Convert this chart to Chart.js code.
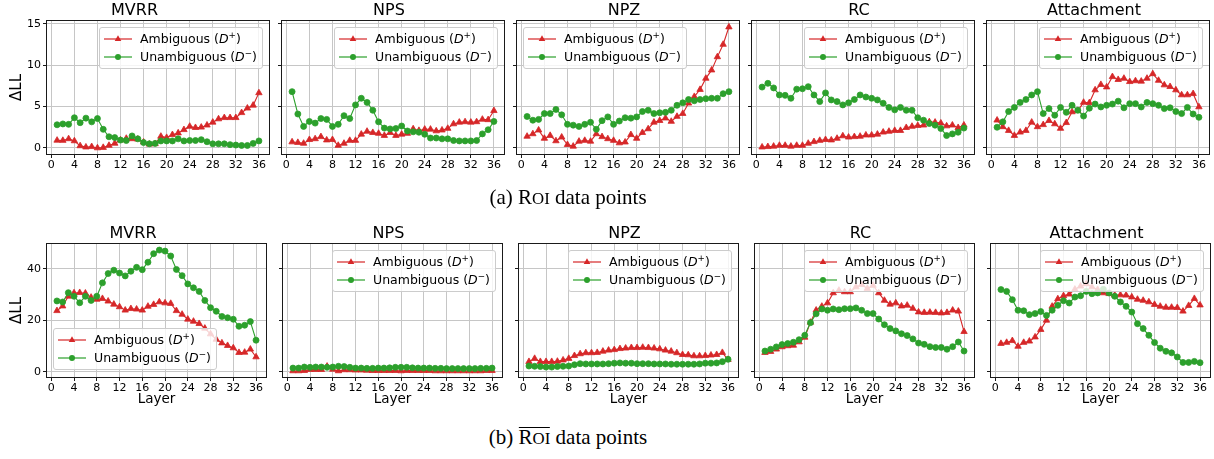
<!DOCTYPE html>
<html><head><meta charset="utf-8">
<script src="https://cdn.jsdelivr.net/npm/chart.js@4.4.1/dist/chart.umd.min.js"></script>
<style>
html,body{margin:0;padding:0;background:#fff;}
body{width:1214px;height:459px;position:relative;overflow:hidden;font-family:"DejaVu Sans",sans-serif;}
.legend{position:absolute;background:rgba(255,255,255,0.8);border:1px solid #cccccc;border-radius:3px;padding:3px 5px 3px 4px;font-size:12.5px;color:#000;white-space:nowrap;box-sizing:border-box;}
.legend .row{height:16px;line-height:16px;display:flex;align-items:center;}
.legend .row+.row{margin-top:2px;}
.legend svg{width:28px;height:12px;margin-right:8px;flex:none;}
.legend i{font-family:"DejaVu Sans",sans-serif;font-style:italic;}
.legend sup{font-size:0.7em;vertical-align:0.55em;line-height:0;}
.caption{position:absolute;font-family:"Liberation Serif","Times New Roman",serif;font-size:21px;line-height:21px;color:#000;white-space:nowrap;transform:translateX(-50%);}
.caption .sc{font-size:0.8em;}
.caption .ov{display:inline-block;border-top:1.2px solid #000;line-height:16px;padding-top:1px;}
</style></head>
<body>
<script>
// ---------- data ----------
const layers = [1,2,3,4,5,6,7,8,9,10,11,12,13,14,15,16,17,18,19,20,21,22,23,24,25,26,27,28,29,30,31,32,33,34,35,36];
const xTicks = [0,4,8,12,16,20,24,28,32,36];
const yTicksRoi = [0,5,10,15];
const yTicksNonRoi = [0,20,40];
const panelTitles = ["MVRR","NPS","NPZ","RC","Attachment"];
const seriesLabels = ["Ambiguous (D+)","Unambiguous (D\u2212)"];

// (a) RoI data points
const roiMvrrAmb   = [0.92,0.9,1.1,0.85,0.25,0.1,0.15,0.0,0.05,0.3,0.55,0.95,1.15,1.1,1.05,0.7,0.45,0.5,1.4,1.25,1.6,1.8,2.2,2.6,2.45,2.5,2.75,3.1,3.5,3.65,3.65,3.65,4.25,4.8,5.15,6.65];
const roiMvrrUnamb = [2.8,2.9,2.85,3.65,3.05,3.6,3.15,3.55,2.25,1.35,1.25,0.95,0.9,1.45,1.1,0.65,0.5,0.55,0.85,0.85,0.85,1.1,0.85,0.9,0.9,1.0,0.75,0.5,0.5,0.5,0.4,0.35,0.3,0.3,0.55,0.85];
const roiNpsAmb    = [0.72,0.65,0.55,1.0,1.1,1.35,0.95,1.0,0.3,0.55,0.9,0.9,1.65,2.0,1.85,1.75,1.5,1.85,1.5,1.65,1.75,2.3,2.1,2.25,2.25,2.05,2.15,2.35,2.9,3.1,3.15,3.1,3.15,3.45,3.4,4.5];
const roiNpsUnamb  = [6.8,4.1,2.6,3.2,3.0,3.55,3.45,2.6,2.85,3.9,3.55,5.2,6.0,5.5,4.55,3.15,2.4,2.3,2.35,2.65,2.05,1.95,1.9,1.65,1.2,1.2,1.1,1.1,0.9,0.85,0.85,0.85,0.9,1.7,2.2,3.2];
const roiNpzAmb    = [1.4,1.7,2.15,1.15,1.5,0.85,1.3,0.4,0.2,0.8,0.9,0.8,1.7,1.35,1.1,0.9,0.6,0.7,1.6,1.15,1.85,2.3,3.1,3.3,3.6,3.2,3.8,4.15,5.4,6.2,7.05,8.4,9.4,11.0,12.5,14.6];
const roiNpzUnamb  = [3.8,3.35,3.45,4.15,4.15,4.65,4.0,2.85,2.75,2.6,2.85,3.1,2.25,3.3,3.75,2.85,3.25,3.65,3.6,3.75,4.4,4.55,4.15,4.25,4.3,4.55,5.15,5.45,5.85,5.7,5.85,5.95,6.0,6.0,6.55,6.8];
const roiRcAmb     = [0.1,0.15,0.2,0.3,0.3,0.2,0.3,0.3,0.55,0.75,0.9,1.0,0.95,1.15,1.45,1.3,1.35,1.4,1.55,1.55,1.65,1.9,2.0,2.1,2.1,2.45,2.6,2.7,2.75,3.15,3.1,3.0,2.65,2.75,2.45,2.75];
const roiRcUnamb   = [7.35,7.8,7.25,6.4,6.35,6.0,7.1,7.15,7.4,6.4,5.6,6.65,5.8,5.6,5.2,5.45,5.85,6.4,6.15,6.0,5.8,5.4,4.9,4.6,4.9,4.55,4.55,3.65,3.35,2.95,2.75,2.35,1.5,1.7,1.9,2.4];
const roiAttAmb    = [3.35,2.55,2.1,1.5,1.9,2.1,3.1,2.55,2.8,3.3,2.9,2.35,3.05,4.35,4.5,5.5,5.45,7.0,7.65,7.35,8.6,8.25,8.4,8.0,8.1,8.05,8.4,8.95,8.15,7.6,7.4,7.0,6.4,6.4,6.55,4.95];
const roiAttUnamb  = [2.5,3.15,4.4,4.9,5.5,5.85,6.4,6.8,4.15,4.75,3.95,4.9,4.3,5.15,4.55,3.85,4.8,5.3,4.95,5.15,5.3,5.65,4.85,5.35,5.35,4.95,5.5,5.35,5.15,4.75,4.85,4.4,4.15,4.9,4.1,3.7];

// (b) non-RoI data points
const nonMvrrAmb   = [23.7,25.5,29.3,30.6,30.7,30.5,28.9,28.1,28.4,27.4,26.2,25.2,23.9,24.5,24.3,23.9,25.4,26.1,27.1,26.7,26.5,23.7,22.3,20.4,19.6,18.7,16.9,14.7,12.6,11.2,10.2,9.3,7.5,7.6,8.8,5.8];
const nonMvrrUnamb = [27.5,27.1,30.7,29.3,26.8,29.3,27.7,29.3,34.5,38.1,39.4,38.3,37.2,39.0,40.5,39.6,42.5,45.8,47.2,46.8,44.9,39.7,37.3,34.1,32.6,31.2,27.7,24.9,23.5,21.5,21.0,20.4,17.7,18.1,19.5,12.3];
const nonNpsAmb    = [0.4,0.4,0.5,0.9,0.9,0.9,2.2,1.0,0.4,0.8,0.8,0.7,0.7,0.6,0.5,0.5,0.5,0.5,0.5,0.4,0.5,0.5,0.5,0.5,0.5,0.4,0.4,0.4,0.4,0.4,0.4,0.4,0.4,0.4,0.5,0.5];
const nonNpsUnamb  = [1.5,1.5,1.9,1.8,1.9,1.9,1.8,1.9,2.2,2.1,1.8,1.5,1.5,1.4,1.4,1.5,1.5,1.6,1.8,1.8,1.8,1.6,1.5,1.5,1.5,1.4,1.4,1.3,1.3,1.3,1.3,1.3,1.3,1.4,1.4,1.5];
const nonNpzAmb    = [4.0,5.2,4.0,4.0,4.0,4.1,4.6,5.2,6.3,7.0,7.4,7.4,7.5,8.0,8.4,8.6,9.0,9.2,9.4,9.4,9.5,9.4,9.2,8.9,8.4,8.0,7.4,6.7,6.6,6.2,6.2,6.3,6.5,6.7,7.5,4.8];
const nonNpzUnamb  = [2.3,2.2,2.1,1.9,1.9,2.1,2.2,2.3,2.8,3.2,3.1,3.1,3.1,3.1,3.2,3.4,3.5,3.4,3.4,3.2,3.2,3.2,3.1,3.1,3.1,3.0,3.0,3.0,3.0,3.0,3.1,3.4,3.4,3.5,4.0,4.9];
const nonRcAmb     = [7.5,7.9,8.8,9.7,10.1,10.3,11.6,13.4,19.2,23.9,25.4,26.7,30.6,31.6,31.0,31.0,32.9,33.8,32.3,33.5,30.6,27.7,26.2,26.7,25.5,25.8,24.6,23.2,23.0,23.1,23.0,22.8,23.0,23.9,23.5,15.6];
const nonRcUnamb   = [8.1,8.8,9.7,10.6,11.0,11.5,12.5,14.2,19.1,22.5,24.4,23.9,24.4,24.1,24.5,24.5,24.8,23.9,22.6,22.6,20.5,18.3,16.8,15.9,14.8,14.1,12.8,11.2,10.7,9.8,9.5,9.5,8.8,9.8,11.6,8.1];
const nonAttAmb    = [11.0,11.4,12.1,9.9,11.4,11.9,13.5,16.4,20.0,25.4,28.3,29.5,30.1,32.0,33.2,34.1,32.9,31.9,30.6,30.3,29.7,29.8,29.7,29.0,28.1,27.7,27.1,26.1,25.4,25.0,25.0,24.9,23.5,25.7,28.4,25.9];
const nonAttUnamb  = [31.9,31.2,28.0,23.9,23.7,22.2,22.6,23.4,21.9,23.9,25.8,27.6,26.7,29.0,29.5,31.2,30.3,30.6,32.0,30.6,29.3,27.1,25.4,23.2,18.7,16.8,14.2,11.4,9.2,8.0,7.4,5.8,3.7,3.7,4.1,3.6];

// ---------- layout / style ----------
const RED = '#d62728', GREEN = '#2ca02c', GRID = '#c6c6c6', AXIS = '#1a1a1a';
const FONT = "'DejaVu Sans', sans-serif";
Chart.defaults.font.family = FONT;

const ROWS = [
  { top:21, h:133, w:222, lefts:[47,282,517,752,987], yMin:-0.73, yMax:15.33, yTicks:yTicksRoi,
    T:21, titlePad:{top:2,bottom:1}, B:18, xTitle:false,
    series:[[roiMvrrAmb,roiMvrrUnamb],[roiNpsAmb,roiNpsUnamb],[roiNpzAmb,roiNpzUnamb],[roiRcAmb,roiRcUnamb],[roiAttAmb,roiAttUnamb]],
    legendPos:['ur','ur','ul','ur','ur'] },
  { top:244, h:133, w:219, lefts:[47,283,519,755,991], yMin:-1.95, yMax:49.55, yTicks:yTicksNonRoi,
    T:23, titlePad:{top:4,bottom:1}, B:33, xTitle:true,
    series:[[nonMvrrAmb,nonMvrrUnamb],[nonNpsAmb,nonNpsUnamb],[nonNpzAmb,nonNpzUnamb],[nonRcAmb,nonRcUnamb],[nonAttAmb,nonAttUnamb]],
    legendPos:['ll','ur','ur','ur','ur'] }
];

const framePlugin = {
  id:'frame',
  afterDatasetsDraw(chart){
    const {ctx, chartArea:a} = chart;
    ctx.save();
    ctx.strokeStyle = AXIS; ctx.lineWidth = 1;
    const l = Math.round(a.left), t = Math.round(a.top), r = Math.round(a.right), b = Math.round(a.bottom);
    ctx.strokeRect(l - 0.5, t - 0.5, r - l + 1, b - t + 1);
    ctx.restore();
  }
};

function makePanel(ri, c){
  const row = ROWS[ri];
  const L = c === 0 ? row.lefts[0] : 8;
  const R = 6;
  const left = row.lefts[c] - L;
  const top = row.top - row.T;
  const W = L + row.w + R, H = row.T + row.h + row.B;
  const canvas = document.createElement('canvas');
  canvas.width = W; canvas.height = H;
  canvas.style.cssText = `position:absolute;left:${left}px;top:${top}px;width:${W}px;height:${H}px;`;
  document.body.appendChild(canvas);
  const [amb, unamb] = row.series[c];
  new Chart(canvas, {
    type:'line',
    data:{ datasets:[
      { label:seriesLabels[0], data:layers.map((x,i)=>({x, y:amb[i]})),
        borderColor:RED, backgroundColor:RED, pointBackgroundColor:RED, pointBorderColor:RED,
        pointStyle:'triangle', pointRadius:3.7, pointBorderWidth:0.8, borderWidth:1.1, tension:0, order:1 },
      { label:seriesLabels[1], data:layers.map((x,i)=>({x, y:unamb[i]})),
        borderColor:GREEN, backgroundColor:GREEN, pointBackgroundColor:GREEN, pointBorderColor:GREEN,
        pointStyle:'circle', pointRadius:3, pointBorderWidth:0.8, borderWidth:1.1, tension:0, order:0 }
    ]},
    options:{
      responsive:false, animation:false, devicePixelRatio:1, events:[],
      layout:{ padding:{ left:0, right:R, top:0, bottom:0 } },
      plugins:{
        legend:{ display:false }, tooltip:{ enabled:false },
        title:{ display:true, text:panelTitles[c], color:'#000', font:{ family:FONT, size:16, weight:'normal', lineHeight:1.125 }, padding:row.titlePad }
      },
      scales:{
        x:{ type:'linear', min:-0.75, max:37.75,
            afterBuildTicks:s=>{ s.ticks = xTicks.map(v=>({value:v})); },
            afterFit:s=>{ s.height = row.B; },
            ticks:{ autoSkip:false, maxRotation:0, minRotation:0, color:'#000', padding:1, font:{ family:FONT, size:11 }, callback:v=>String(v) },
            grid:{ color:GRID, lineWidth:1, drawTicks:true, tickLength:4, tickColor:AXIS, tickWidth:1 },
            border:{ display:false },
            title:{ display:row.xTitle, text:'Layer', color:'#000', font:{ family:FONT, size:13.5 }, padding:{ top:0, bottom:2 } } },
        y:{ type:'linear', min:row.yMin, max:row.yMax,
            afterBuildTicks:s=>{ s.ticks = row.yTicks.map(v=>({value:v})); },
            afterFit:s=>{ s.width = L; },
            ticks:{ color:'#000', padding:2, font:{ family:FONT, size:11 }, callback: c === 0 ? (v=>String(v)) : (()=> '') },
            grid:{ color:GRID, lineWidth:1, drawTicks:true, tickLength:4, tickColor:AXIS, tickWidth:1 },
            border:{ display:false },
            title:{ display:c === 0, text:'\u0394LL', color:'#000', font:{ family:FONT, size:15, lineHeight:1.2 }, padding:{ top:8, bottom:0 } } }
      }
    },
    plugins:[framePlugin]
  });
  makeLegend(row, c);
}

function handleSvg(color, marker){
  const m = marker === 'tri'
    ? `<polygon points="14,2.3 17.3,8.1 10.7,8.1" fill="${color}"/>`
    : `<circle cx="14" cy="6" r="3" fill="${color}"/>`;
  return `<svg viewBox="0 0 28 12"><line x1="0" y1="6" x2="28" y2="6" stroke="${color}" stroke-width="1.2"/>${m}</svg>`;
}

function makeLegend(row, c){
  const d = document.createElement('div');
  d.className = 'legend';
  d.innerHTML =
    `<div class="row">${handleSvg(RED,'tri')}<span>Ambiguous (<i>D</i><sup>+</sup>)</span></div>` +
    `<div class="row">${handleSvg(GREEN,'dot')}<span>Unambiguous (<i>D</i><sup>\u2212</sup>)</span></div>`;
  document.body.appendChild(d);
  const pos = row.legendPos[c];
  const pl = row.lefts[c], pt = row.top;
  const w = d.offsetWidth, h = d.offsetHeight;
  if (pos === 'ur'){ d.style.left = (pl + row.w - 6 - w) + 'px'; d.style.top = (pt + 6) + 'px'; }
  else if (pos === 'ul'){ d.style.left = (pl + 6) + 'px'; d.style.top = (pt + 6) + 'px'; }
  else { d.style.left = (pl + 6) + 'px'; d.style.top = (pt + row.h - 7 - h) + 'px'; }
}

for (let r = 0; r < 2; r++) for (let c = 0; c < 5; c++) makePanel(r, c);

function caption(html, cx, top){
  const d = document.createElement('div');
  d.className = 'caption';
  d.innerHTML = html;
  d.style.left = cx + 'px'; d.style.top = top + 'px';
  document.body.appendChild(d);
}
caption('(a) R<span class="sc">OI</span> data points', 568, 187);
caption('(b) <span class="ov">R<span class="sc">OI</span></span> data points', 568, 427);
</script>
</body></html>
